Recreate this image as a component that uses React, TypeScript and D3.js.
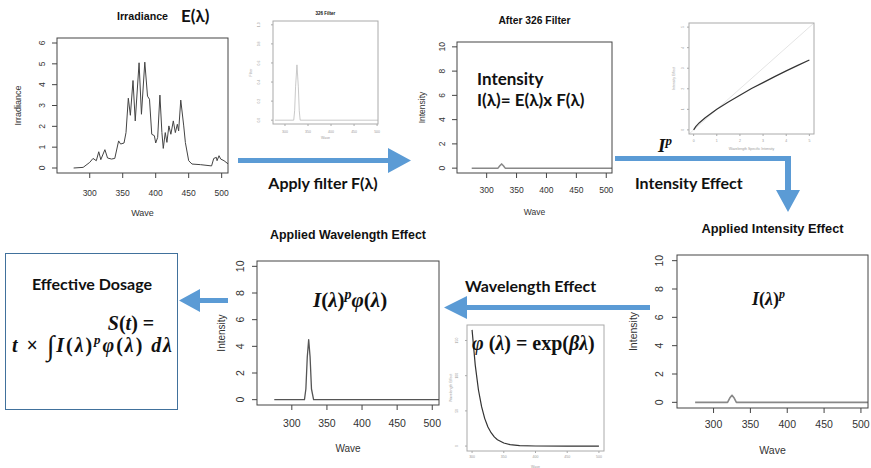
import React from 'react';
import * as d3 from 'd3';

// wavelength axis ticks shared by the "Wave" plots
const waveTicks = [300, 350, 400, 450, 500];
const intensityTicks = [0, 2, 4, 6, 8, 10];

// Irradiance E(λ)
const irrWave = [275.6, 290, 300, 305, 310, 313.7, 316.8, 323, 327, 333, 338, 343.8, 346.8, 352, 355, 358.5, 361.6, 365.6, 369, 374.8,
  378.4, 383.5, 387.6, 390.6, 394, 398, 400, 403, 406.4, 409.4, 411.5, 414.5, 417, 420, 423, 426.7, 429.8, 432.8, 434.8, 438,
  442.5, 445, 450, 455, 468, 484.7, 488, 492, 493, 496, 498.5, 503.6, 510];
const irrValue = [0, 0.03, 0.27, 0.46, 0.35, 0.78, 0.4, 0.88, 0.48, 0.43, 0.46, 1.3, 1.15, 1.2, 1.7, 3.35, 2.53, 4.2, 2.26, 5.05,
  2.58, 5.08, 3.45, 3.3, 1.62, 1.55, 1.2, 1.47, 3.5, 1.7, 0.94, 1.7, 1.23, 2.02, 1.62, 2.26, 1.7, 2.1, 1.78, 3.26,
  2.02, 1.22, 0.35, 0.19, 0.16, 0.1, 0.46, 0.51, 0.35, 0.59, 0.43, 0.35, 0.19];
const irrTicks = [0, 1, 2, 3, 4, 5, 6];

// 326 filter F(λ)
const filterWave = [278, 319, 321, 323, 326, 329, 331, 333, 510];
const filterValue = [0, 0, 0.1, 0.35, 0.58, 0.35, 0.1, 0, 0];
const filterTicks = [0, 0.2, 0.4, 0.6, 0.8, 1.0];

// after filter I(λ)
const afterWave = [275, 319, 322, 325, 328, 331, 510];
const afterValue = [0, 0, 0.2, 0.35, 0.2, 0, 0];

// intensity effect I^p
const intX = [0, 0.1, 0.25, 0.5, 1, 1.5, 2, 2.5, 3, 3.5, 4, 4.5, 5];
const intY = [0, 0.17, 0.35, 0.59, 1, 1.36, 1.69, 2.01, 2.3, 2.59, 2.87, 3.14, 3.4];
const refLine = [-0.2, 5.2];
const intTicks = [0, 1, 2, 3, 4, 5];

// applied intensity effect I(λ)^p
const appIntWave = [275, 319, 322, 325, 328, 331, 510];
const appIntValue = [0, 0, 0.3, 0.5, 0.3, 0, 0];

// applied wavelength effect I(λ)^p φ(λ)
const appWlWave = [275, 318, 320, 322, 324, 326, 328, 331, 510];
const appWlValue = [0, 0, 0.8, 3.2, 4.5, 3.2, 0.8, 0, 0];

// wavelength effect φ(λ)
const phiWave = [300, 305, 310, 315, 320, 325, 330, 335, 340, 350, 360, 375, 400, 450, 500];
const phiValue = [165, 115, 80, 56, 39, 27, 19, 13, 9, 4.4, 2.1, 0.7, 0.1, 0, 0];
const phiTicks = [0, 50, 100, 150];

const PLOT_FONT = "'Liberation Sans', Arial, sans-serif";
const NOTE_FONT = "Lato, 'Open Sans', sans-serif";
const MATH_FONT = "'Liberation Serif', 'DejaVu Serif', serif";
const BLUE = '#5B9BD5';

type Series = { x: number[]; y: number[]; color: string; width: number };
type PlotProps = {
  id: string;
  box: [number, number, number, number];
  xDomain: [number, number];
  yDomain: [number, number];
  xTicks: number[];
  yTicks: number[];
  yFmt?: (v: number) => string;
  series: Series[];
  title?: string;
  titleY?: number;
  titleSize?: number;
  xlab: string;
  ylab: string;
  tickSize: number;
  labSize: number;
  tickLen: number;
  yTickGap: number;
  xTickGap: number;
  xlabGap: number;
  ylabGap: number;
  ink: string;
  frame: string;
};

function RPlot(p: PlotProps) {
  const [x0, y0, x1, y1] = p.box;
  const x = d3.scaleLinear().domain(p.xDomain).range([x0, x1]);
  const y = d3.scaleLinear().domain(p.yDomain).range([y1, y0]);
  const line = d3.line<[number, number]>().x(d => x(d[0])).y(d => y(d[1]));
  const fmt = p.yFmt ?? ((v: number) => String(v));
  const cx = (x0 + x1) / 2;
  const cy = (y0 + y1) / 2;
  return (
    <g fontFamily={PLOT_FONT}>
      <defs>
        <clipPath id={p.id}>
          <rect x={x0} y={y0} width={x1 - x0} height={y1 - y0} />
        </clipPath>
      </defs>
      <g clipPath={`url(#${p.id})`}>
        {p.series.map((s, i) => (
          <path key={i} d={line(d3.zip(s.x, s.y) as [number, number][]) ?? ''}
            fill="none" stroke={s.color} strokeWidth={s.width} strokeLinejoin="round" />
        ))}
      </g>
      <rect x={x0} y={y0} width={x1 - x0} height={y1 - y0} fill="none" stroke={p.frame} strokeWidth={1} />
      {p.xTicks.map(v => (
        <g key={'x' + v}>
          <line x1={x(v)} x2={x(v)} y1={y1} y2={y1 + p.tickLen} stroke={p.frame} />
          <text x={x(v)} y={y1 + p.xTickGap} dy="0.35em" textAnchor="middle" fontSize={p.tickSize} fill={p.ink}>{v}</text>
        </g>
      ))}
      {p.yTicks.map(v => (
        <g key={'y' + v}>
          <line x1={x0 - p.tickLen} x2={x0} y1={y(v)} y2={y(v)} stroke={p.frame} />
          <text transform={`translate(${x0 - p.yTickGap},${y(v)}) rotate(-90)`} dy="0.35em" textAnchor="middle"
            fontSize={p.tickSize} fill={p.ink}>{fmt(v)}</text>
        </g>
      ))}
      <text x={cx} y={y1 + p.xlabGap} dy="0.35em" textAnchor="middle" fontSize={p.labSize} fill={p.ink}>{p.xlab}</text>
      <text transform={`translate(${x0 - p.ylabGap},${cy}) rotate(-90)`} dy="0.35em" textAnchor="middle"
        fontSize={p.labSize} fill={p.ink}>{p.ylab}</text>
      {p.title && (
        <text x={cx} y={p.titleY} textAnchor="middle" fontSize={p.titleSize} fontWeight="bold" fill="#111">{p.title}</text>
      )}
    </g>
  );
}

const Arrow = ({ d }: { d: string }) => <path d={d} fill={BLUE} />;

export default function App() {
  const big = { tickLen: 5, ink: '#333', frame: '#444' };
  const tiny = { tickLen: 2, ink: '#999', frame: '#aaa' };
  return (
    <svg width={871} height={468} style={{ position: 'absolute', left: 0, top: 0, background: '#fff' }}>
      <rect width={871} height={468} fill="#fff" />

      <RPlot id="c1" box={[57, 38, 228, 173]} xDomain={[250.4, 509.6]} yDomain={[-0.24, 6.24]}
        xTicks={waveTicks} yTicks={irrTicks}
        series={[{ x: irrWave, y: irrValue, color: '#444', width: 1 }]}
        title="Irradiance" titleY={20} titleSize={10.7} xlab="Wave" ylab="Irradiance"
        tickSize={8.5} labSize={9} yTickGap={15} xTickGap={20} xlabGap={40} ylabGap={39} {...big} />
      <text x={181} y={22} fontFamily={NOTE_FONT} fontWeight="bold" fontSize={17} fill="#111">E(λ)</text>

      <RPlot id="c2" box={[273, 21, 378, 124]} xDomain={[274, 502]} yDomain={[-0.04, 1.04]}
        xTicks={waveTicks} yTicks={filterTicks} yFmt={v => v.toFixed(1)}
        series={[{ x: filterWave, y: filterValue, color: '#bbb', width: 0.8 }]}
        title="326 Filter" titleY={15} titleSize={4.5} xlab="Wave" ylab="Filter"
        tickSize={3.5} labSize={3.5} yTickGap={14} xTickGap={8} xlabGap={14} ylabGap={22} {...tiny} />

      <RPlot id="c3" box={[457, 42, 612, 173]} xDomain={[250.4, 509.6]} yDomain={[-0.4, 10.4]}
        xTicks={waveTicks} yTicks={intensityTicks}
        series={[{ x: afterWave, y: afterValue, color: '#888', width: 1.5 }]}
        title="After 326 Filter" titleY={24} titleSize={10.3} xlab="Wave" ylab="Intensity"
        tickSize={8.5} labSize={8.5} yTickGap={15} xTickGap={17} xlabGap={39} ylabGap={35} {...big} />
      <text x={477} y={85} fontFamily={NOTE_FONT} fontWeight="bold" fontSize={17} fill="#111">Intensity</text>
      <text x={477} y={106} fontFamily={NOTE_FONT} fontWeight="bold" fontSize={17} fill="#111">I(λ)= E(λ)x F(λ)</text>

      <RPlot id="c4" box={[689, 23, 814, 134]} xDomain={[-0.2, 5.2]} yDomain={[-0.2, 5.2]}
        xTicks={intTicks} yTicks={intTicks}
        series={[{ x: refLine, y: refLine, color: '#ddd', width: 0.8 }, { x: intX, y: intY, color: '#333', width: 1.2 }]}
        xlab="Wavelength Specific Intensity" ylab="Intensity Effect"
        tickSize={3.5} labSize={3.5} yTickGap={6} xTickGap={7} xlabGap={15} ylabGap={15} {...tiny} />

      <RPlot id="c5" box={[677, 255, 868, 408]} xDomain={[250.4, 509.6]} yDomain={[-0.4, 10.4]}
        xTicks={waveTicks} yTicks={intensityTicks}
        series={[{ x: appIntWave, y: appIntValue, color: '#888', width: 1.6 }]}
        title="Applied Intensity Effect" titleY={233} titleSize={12.8} xlab="Wave" ylab="Intensity"
        tickSize={10.5} labSize={10.5} yTickGap={18} xTickGap={16} xlabGap={42} ylabGap={44} {...big} />
      <text x={752} y={305} fontFamily={MATH_FONT} fontWeight="bold" fontSize={18} fill="#111">
        <tspan fontStyle="italic">I</tspan>(<tspan fontStyle="italic">λ</tspan>)<tspan fontStyle="italic" fontSize={12} dy={-7}>p</tspan>
      </text>

      <RPlot id="c6" box={[257, 261, 439, 405]} xDomain={[250.4, 509.6]} yDomain={[-0.4, 10.4]}
        xTicks={waveTicks} yTicks={intensityTicks}
        series={[{ x: appWlWave, y: appWlValue, color: '#555', width: 1.3 }]}
        title="Applied Wavelength Effect" titleY={239} titleSize={12.4} xlab="Wave" ylab="Intensity"
        tickSize={10.5} labSize={10} yTickGap={17} xTickGap={18} xlabGap={43} ylabGap={36} {...big} />
      <text x={313} y={307} fontFamily={MATH_FONT} fontWeight="bold" fontSize={21} fill="#111">
        <tspan fontStyle="italic">I</tspan>(<tspan fontStyle="italic">λ</tspan>)<tspan fontStyle="italic" fontSize={14} dy={-8}>p</tspan><tspan dy={8} fontStyle="italic">φ</tspan>(<tspan fontStyle="italic">λ</tspan>)
      </text>

      <RPlot id="c7" box={[467, 325, 604, 451]} xDomain={[292, 508]} yDomain={[-7, 172]}
        xTicks={waveTicks} yTicks={phiTicks}
        series={[{ x: phiWave, y: phiValue, color: '#333', width: 1.2 }]}
        xlab="Wave" ylab="Wavelength Effect"
        tickSize={3.5} labSize={3.5} yTickGap={10} xTickGap={6} xlabGap={16} ylabGap={16} {...tiny} />
      <text x={472} y={350} fontFamily={MATH_FONT} fontWeight="bold" fontSize={20} fill="#111">
        <tspan fontStyle="italic">φ</tspan> (<tspan fontStyle="italic">λ</tspan>) = exp(<tspan fontStyle="italic">βλ</tspan>)
      </text>

      {/* arrows */}
      <Arrow d="M238,158 L388,158 L388,148 L411,160.5 L388,173 L388,163 L238,163 Z" />
      <Arrow d="M615,156 L791,156 L791,190 L800,190 L788,212 L776,190 L785,190 L785,161 L615,161 Z" />
      <Arrow d="M650,305 L467,305 L467,296 L444,307.5 L467,319 L467,310 L650,310 Z" />
      <Arrow d="M228,298 L200,298 L200,289 L179,300.5 L200,312 L200,303 L228,303 Z" />

      <text x={323} y={189} textAnchor="middle" fontFamily={NOTE_FONT} fontWeight="bold" fontSize={16} fill="#111">Apply filter F(λ)</text>
      <text x={658} y={152} fontFamily={MATH_FONT} fontWeight="bold" fontSize={19} fill="#111">
        <tspan fontStyle="italic">I</tspan><tspan fontStyle="italic" fontSize={13} dy={-7}>p</tspan>
      </text>
      <text x={635} y={189} fontFamily={NOTE_FONT} fontWeight="bold" fontSize={16} fill="#111">Intensity Effect</text>
      <text x={465} y={292} fontFamily={NOTE_FONT} fontWeight="bold" fontSize={16} fill="#111">Wavelength Effect</text>

      {/* effective dosage box */}
      <rect x={5.5} y={253.5} width={172} height={156} fill="#fff" stroke="#41719C" strokeWidth={1} />
      <text x={92} y={290} textAnchor="middle" fontFamily={NOTE_FONT} fontWeight="bold" fontSize={16} fill="#111">Effective Dosage</text>
      <text x={131} y={330} textAnchor="middle" fontFamily={MATH_FONT} fontWeight="bold" fontSize={20} fill="#111">
        <tspan fontStyle="italic">S</tspan>(<tspan fontStyle="italic">t</tspan>) =
      </text>
      <text x={12} y={352} textLength={160} lengthAdjust="spacing" fontFamily={MATH_FONT} fontWeight="bold" fontSize={20} fill="#111">
        <tspan fontStyle="italic">t</tspan> × <tspan fontSize={28} fontWeight="normal" dy={3}>∫</tspan><tspan dy={-3} fontStyle="italic">I</tspan>(<tspan fontStyle="italic">λ</tspan>)<tspan fontStyle="italic" fontSize={13} dy={-8}>p</tspan><tspan dy={8} fontStyle="italic">φ</tspan>(<tspan fontStyle="italic">λ</tspan>) <tspan fontStyle="italic">dλ</tspan>
      </text>
    </svg>
  );
}
